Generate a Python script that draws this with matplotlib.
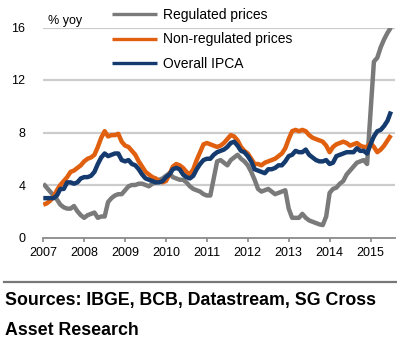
import numpy as np
import matplotlib
matplotlib.use("Agg")
import matplotlib.pyplot as plt
from matplotlib.lines import Line2D

plt.rcParams["font.family"] = ["Liberation Sans", "DejaVu Sans"]

# Monthly year-on-year inflation, Jan 2007 - Jul 2015 (%)
regulated = [
    4.1, 3.8, 3.5, 3.2, 2.9, 2.5, 2.3, 2.2, 2.2, 2.4, 2.0, 1.7,
    1.5, 1.7, 1.8, 1.9, 1.5, 1.6, 1.6, 2.7, 3.0, 3.2, 3.3, 3.3,
    3.6, 3.9, 4.0, 4.0, 4.1, 4.1, 4.0, 3.9, 4.1, 4.2, 4.4, 4.5,
    4.7, 4.9, 4.6, 4.5, 4.4, 4.4, 4.2, 3.9, 3.7, 3.6, 3.5, 3.3,
    3.2, 3.2, 4.5, 5.8, 5.9, 5.7, 5.5, 5.9, 6.1, 6.3, 6.0, 5.8,
    5.5, 5.0, 4.4, 3.7, 3.5, 3.6, 3.7, 3.5, 3.3, 3.4, 3.5, 3.6,
    2.2, 1.5, 1.5, 1.5, 1.8, 1.5, 1.3, 1.2, 1.1, 1.0, 0.95, 1.6,
    3.4, 3.7, 3.8, 4.1, 4.3, 4.8, 5.1, 5.4, 5.7, 5.8, 5.9, 5.6,
    9.5, 13.4, 13.7, 14.5, 15.1, 15.6, 16.0,
]
non_regulated = [
    2.5, 2.6, 2.8, 3.1, 3.6, 4.0, 4.3, 4.6, 5.0, 5.1, 5.3, 5.5,
    5.8, 6.0, 6.1, 6.3, 6.9, 7.6, 8.1, 7.7, 7.8, 7.8, 7.9, 7.3,
    7.0, 6.9, 6.6, 6.3, 5.8, 5.4, 5.0, 4.8, 4.6, 4.5, 4.3, 4.2,
    4.3, 4.8, 5.4, 5.6, 5.5, 5.3, 5.0, 4.8, 5.2, 5.9, 6.5, 7.1,
    7.2, 7.1, 7.0, 6.9, 7.0, 7.2, 7.5, 7.8, 7.7, 7.4, 6.9, 6.6,
    6.4, 6.0, 5.6, 5.6, 5.5, 5.7, 5.8, 5.9, 6.0, 6.2, 6.4, 6.8,
    7.5, 8.1, 8.2, 8.1, 8.2, 8.1, 7.8, 7.6, 7.5, 7.4, 7.3, 7.0,
    6.5, 6.9, 7.1, 7.2, 7.3, 7.2, 7.0, 7.1, 7.2, 7.0, 6.9, 6.9,
    7.2, 6.9, 6.5, 6.7, 7.0, 7.4, 7.8,
]
overall_ipca = [
    3.0, 3.0, 3.0, 3.0, 3.2, 3.7, 3.7, 4.2, 4.2, 4.1, 4.2, 4.5,
    4.6, 4.6, 4.7, 5.0, 5.6, 6.1, 6.4, 6.2, 6.3, 6.4, 6.4, 5.9,
    5.8, 5.9, 5.6, 5.5, 5.2, 4.8, 4.5, 4.4, 4.3, 4.2, 4.2, 4.3,
    4.6, 4.8, 5.2, 5.3, 5.2, 4.8, 4.6, 4.5, 4.7, 5.2, 5.6, 5.9,
    6.0, 6.0, 6.3, 6.5, 6.6, 6.7, 6.9, 7.2, 7.3, 7.0, 6.6, 6.5,
    6.2, 5.8, 5.2, 5.1, 5.0, 4.9, 5.2, 5.2, 5.3, 5.5, 5.5, 5.8,
    6.2, 6.3, 6.6, 6.5, 6.5, 6.7, 6.3, 6.1, 5.9, 5.8, 5.8, 5.9,
    5.6, 5.7, 6.2, 6.3, 6.4, 6.5, 6.5, 6.5, 6.8, 6.6, 6.6, 6.4,
    7.1, 7.7, 8.1, 8.2, 8.5, 8.9, 9.6,
]
series_names = ["Regulated prices", "Non-regulated prices", "Overall IPCA"]
year_ticks = list(range(2007, 2016))
y_ticks = [0, 4, 8, 12, 16]

start_year = 2007
dates = start_year + np.arange(len(overall_ipca)) / 12.0

W, H = 397, 341
fig = plt.figure(figsize=(W / 100, H / 100), dpi=100)
ax = fig.add_axes([43.3 / W, 1 - 237.5 / H, (395 - 43.3) / W, (237.5 - 27.5) / H])

colors = ["#7a7a7a", "#e0600f", "#143a6e"]
for vals, name, col in zip([regulated, non_regulated, overall_ipca], series_names, colors):
    ax.plot(dates, vals, color=col, lw=3.2, label=name, solid_capstyle="butt",
            solid_joinstyle="round", zorder=3)

ax.set_xlim(2007, 2007 + (395 - 43.3) / 40.9)
ax.set_ylim(0, 16)
ax.set_xticks(year_ticks)
ax.set_xticklabels([str(y) for y in year_ticks], fontsize=9)
ax.set_yticks(y_ticks)
ax.set_yticklabels([str(v) for v in y_ticks], fontsize=9)

for v in y_ticks[1:]:
    ax.axhline(v, color="#cccccc", lw=1.6, zorder=1)

for s in ["top", "right", "left"]:
    ax.spines[s].set_visible(False)
ax.spines["bottom"].set_color("#8a8a8a")
ax.spines["bottom"].set_linewidth(1.3)
ax.tick_params(axis="x", direction="out", length=3, width=1.2, color="#8a8a8a", pad=4)
ax.tick_params(axis="y", length=0, pad=13)

leg = ax.legend(loc="upper left", bbox_to_anchor=(112 / W, 1 - 8 / H),
                bbox_transform=fig.transFigure, frameon=False, fontsize=10,
                handlelength=3.25, handletextpad=0.45, labelspacing=0.75,
                borderpad=0, borderaxespad=0)
for h in leg.get_lines():
    h.set_linewidth(2.4)

fig.text(48 / W, 1 - 24 / H, "% yoy", fontsize=9, va="baseline", ha="left")

fig.add_artist(Line2D([4 / W, 1.0], [1 - 281.7 / H, 1 - 281.7 / H],
                      transform=fig.transFigure, color="#777777", lw=1.6))
fig.text(5 / W, 1 - 305 / H, "Sources: IBGE, BCB, Datastream, SG Cross",
         fontsize=12.8, fontweight="bold", va="baseline", ha="left")
fig.text(5 / W, 1 - 335 / H, "Asset Research",
         fontsize=12.8, fontweight="bold", va="baseline", ha="left")

fig.savefig("out.png", dpi=100)
